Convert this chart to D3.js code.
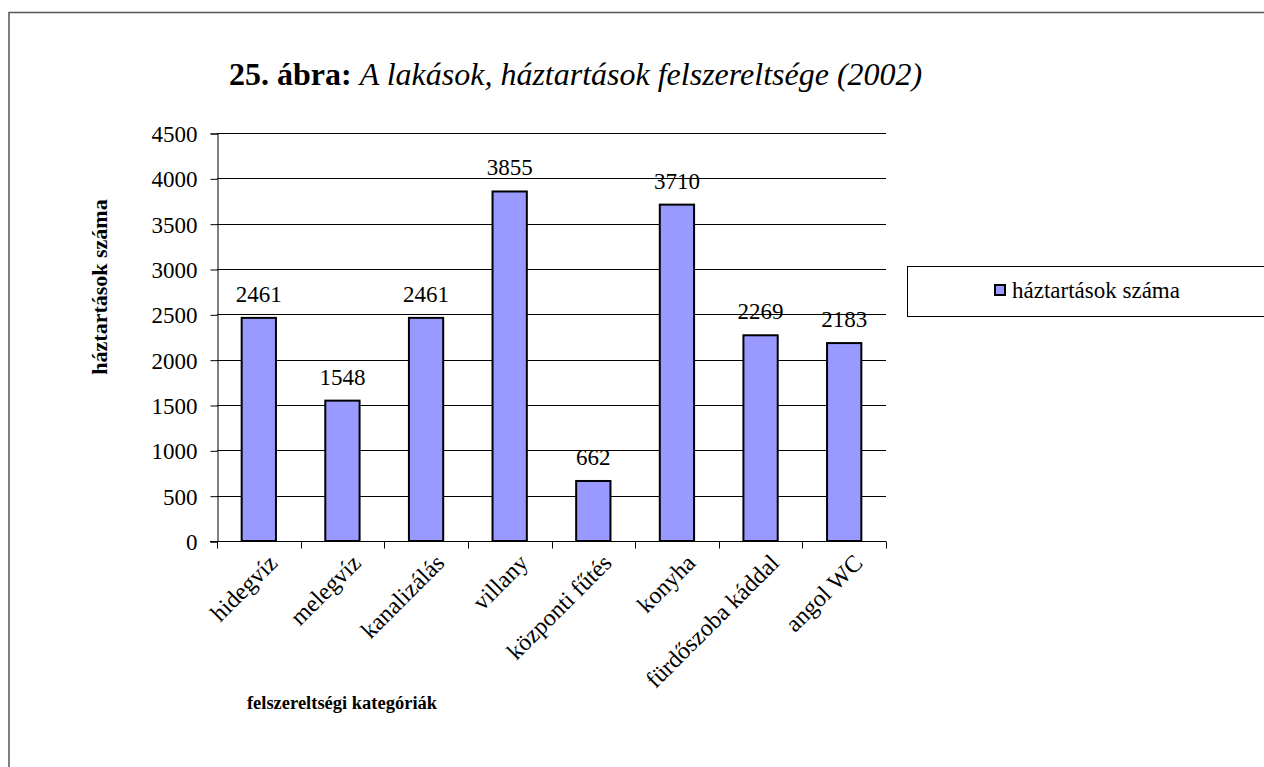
<!DOCTYPE html>
<html>
<head>
<meta charset="utf-8">
<script src="https://cdn.jsdelivr.net/npm/d3@7"></script>
<style>
  body { margin: 0; background: #fff; }
  svg text { font-family: "Liberation Serif", "Times New Roman", serif; fill: #000; }
</style>
</head>
<body>
<div id="chart"></div>
<script>
const categories = ['hidegvíz', 'melegvíz', 'kanalizálás', 'villany', 'központi fűtés', 'konyha', 'fürdőszoba káddal', 'angol WC'];
const households = [2461, 1548, 2461, 3855, 662, 3710, 2269, 2183];
const yTicks = [0, 500, 1000, 1500, 2000, 2500, 3000, 3500, 4000, 4500];
const seriesName = 'háztartások száma';

const width = 1264,
    height = 767;
const margin = { left: 217, right: 1264 - 886, top: 133, bottom: 767 - 541 };
const fs = '23px';
const serif = '"Liberation Serif", "Times New Roman", serif';

const svg = d3.select('#chart').append('svg').attr('width', width).attr('height', height);

// outer frame
svg.append('path')
    .attr('d', `M9,${height} L9,12.5 L${width},12.5`)
    .attr('fill', 'none')
    .attr('stroke', '#555')
    .attr('stroke-width', 1.5);

const x = d3
    .scaleBand()
    .domain(categories)
    .range([margin.left, width - margin.right])
    .paddingInner(0)
    .paddingOuter(0);

const y = d3
    .scaleLinear()
    .domain([0, 4500])
    .range([height - margin.bottom, margin.top]);

// gridlines
svg.append('g')
    .selectAll('line')
    .data(yTicks.filter((d) => d > 0))
    .enter()
    .append('line')
    .attr('x1', margin.left)
    .attr('x2', width - margin.right)
    .attr('y1', (d) => Math.round(y(d)) + 0.5)
    .attr('y2', (d) => Math.round(y(d)) + 0.5)
    .attr('stroke', '#000')
    .attr('stroke-width', 1);

// y axis
const yAxis = svg
    .append('g')
    .attr('transform', `translate(${margin.left + 0.5},0.5)`)
    .call(d3.axisLeft(y).tickValues(yTicks).tickSize(7).tickPadding(13).tickFormat(d3.format('d')));
yAxis.attr('font-family', serif);
yAxis.selectAll('text').style('font-size', fs).style('font-family', serif).attr('dy', '0.35em');
yAxis.select('.domain').attr('stroke', '#000');
yAxis.selectAll('.tick line').attr('stroke', '#000');

// x axis with ticks at band boundaries
const xAxisG = svg.append('g').attr('transform', `translate(0,${Math.round(y(0)) + 0.5})`);
xAxisG
    .append('line')
    .attr('x1', margin.left - 7)
    .attr('x2', width - margin.right)
    .attr('stroke', '#000');
xAxisG
    .selectAll('line.tk')
    .data(d3.range(categories.length + 1))
    .enter()
    .append('line')
    .attr('class', 'tk')
    .attr('x1', (i) => Math.round(margin.left + i * x.bandwidth()) + 0.5)
    .attr('x2', (i) => Math.round(margin.left + i * x.bandwidth()) + 0.5)
    .attr('y1', 0)
    .attr('y2', 7)
    .attr('stroke', '#000');

xAxisG
    .selectAll('text')
    .data(categories)
    .enter()
    .append('text')
    .attr('transform', (d) => `translate(${x(d) + x.bandwidth() / 2 + 8},11) rotate(-45)`)
    .attr('text-anchor', 'end')
    .attr('dy', '0.7em')
    .style('font-size', '24px')
    .text((d) => d);

// bars
const barW = x.bandwidth() * 0.41;
svg.append('g')
    .selectAll('rect')
    .data(categories)
    .enter()
    .append('rect')
    .attr('x', (d) => x(d) + x.bandwidth() / 2 - barW / 2)
    .attr('y', (d, i) => y(households[i]))
    .attr('width', barW)
    .attr('height', (d, i) => y(0) - y(households[i]))
    .attr('fill', '#9999ff')
    .attr('stroke', '#000')
    .attr('stroke-width', 2);

// value labels
svg.append('g')
    .selectAll('text')
    .data(categories)
    .enter()
    .append('text')
    .attr('x', (d) => x(d) + x.bandwidth() / 2)
    .attr('y', (d, i) => y(households[i]) - 16)
    .attr('text-anchor', 'middle')
    .style('font-size', fs)
    .text((d, i) => households[i]);

// title
const title = svg.append('text').attr('x', 229).attr('y', 85).style('font-size', '32px');
title.append('tspan').style('font-weight', 'bold').text('25. ábra: ');
title.append('tspan').style('font-style', 'italic').text('A lakások, háztartások felszereltsége (2002)');

// axis titles
svg.append('text')
    .attr('transform', 'translate(107,287) rotate(-90)')
    .attr('text-anchor', 'middle')
    .style('font-size', '22px')
    .style('font-weight', 'bold')
    .text(seriesName);

svg.append('text')
    .attr('x', 342)
    .attr('y', 709)
    .attr('text-anchor', 'middle')
    .style('font-size', '18.5px')
    .style('font-weight', 'bold')
    .text('felszereltségi kategóriák');

// legend
const legend = svg.append('g');
legend
    .append('rect')
    .attr('x', 907.5)
    .attr('y', 266.5)
    .attr('width', 400)
    .attr('height', 50)
    .attr('fill', '#fff')
    .attr('stroke', '#000')
    .attr('stroke-width', 1);
legend
    .append('rect')
    .attr('x', 995)
    .attr('y', 285)
    .attr('width', 10)
    .attr('height', 10)
    .attr('fill', '#9999ff')
    .attr('stroke', '#000')
    .attr('stroke-width', 2);
legend
    .append('text')
    .attr('x', 1012)
    .attr('y', 298)
    .style('font-size', fs)
    .text(seriesName);
</script>
</body>
</html>
